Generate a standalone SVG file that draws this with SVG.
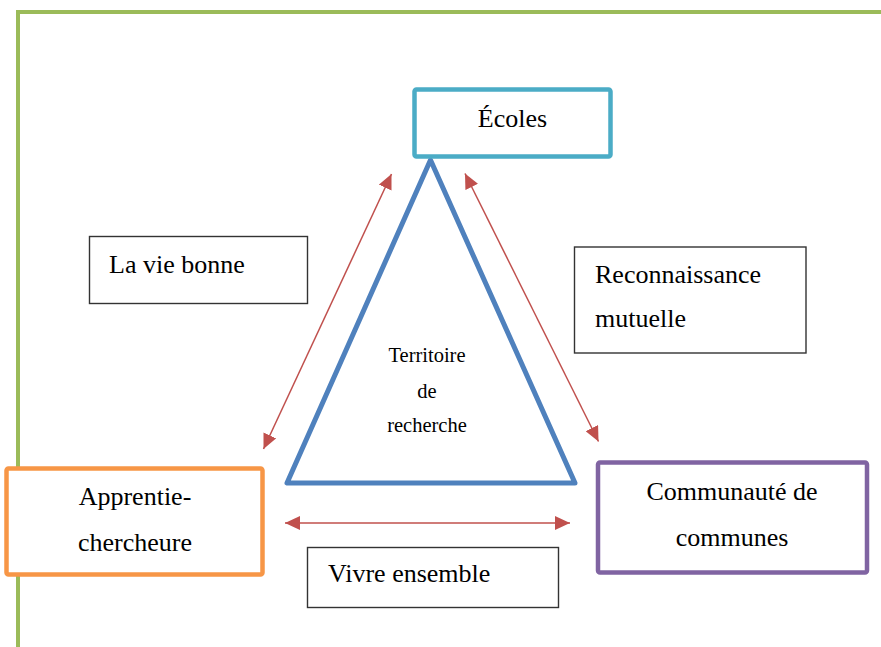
<svg xmlns="http://www.w3.org/2000/svg" width="881" height="647" viewBox="0 0 881 647">
<defs>
<marker id="ah" markerUnits="userSpaceOnUse" markerWidth="16" markerHeight="14" refX="15" refY="7" orient="auto-start-reverse" viewBox="0 0 16 14">
<path d="M0,0 L15,7 L0,14 z" fill="#C0504D"/>
</marker>
<style>
.t{font-size:26px}
.s{font-size:20.5px}
.plain{fill:#fff;stroke:#333;stroke-width:1.4}
.arr{stroke:#C0504D;stroke-width:1.5;fill:none;marker-start:url(#ah);marker-end:url(#ah)}
</style>
</defs>
<rect width="881" height="647" fill="#fff"/>
<path d="M18,647 V12 H881" fill="none" stroke="#9BBB59" stroke-width="4"/>

<g font-family="Liberation Serif, DejaVu Serif, serif" fill="#000">
<g id="triangle">
<polygon points="430.5,160 287,483 575,483" fill="none" stroke="#4F81BD" stroke-width="5" stroke-linejoin="round"/>
<text class="s" x="427" y="361.5" text-anchor="middle">Territoire</text>
<text class="s" x="427" y="398" text-anchor="middle">de</text>
<text class="s" x="427" y="432" text-anchor="middle">recherche</text>
</g>

<g id="connectors">
<line class="arr" x1="391.5" y1="174" x2="263.5" y2="449"/>
<line class="arr" x1="465" y1="173.5" x2="598.5" y2="441.5"/>
<line class="arr" x1="285" y1="523" x2="570" y2="523"/>
</g>

<g id="ecoles">
<rect x="414.5" y="89.5" width="196" height="67" rx="2" fill="#fff" stroke="#4BACC6" stroke-width="4.5"/>
<text class="t" x="512.5" y="127" text-anchor="middle">Écoles</text>
</g>

<g id="vie-bonne">
<rect class="plain" x="89.5" y="236.5" width="218" height="67"/>
<text class="t" x="109" y="272.5">La vie bonne</text>
</g>

<g id="reconnaissance">
<rect class="plain" x="574.5" y="247" width="231.5" height="106"/>
<text class="t" x="595" y="282.5">Reconnaissance</text>
<text class="t" x="595" y="327">mutuelle</text>
</g>

<g id="apprentie">
<rect x="6.5" y="468.5" width="256" height="106" rx="2" fill="#fff" stroke="#F79646" stroke-width="4.5"/>
<text class="t" x="135" y="505" text-anchor="middle">Apprentie-</text>
<text class="t" x="135" y="551" text-anchor="middle">chercheure</text>
</g>

<g id="communaute">
<rect x="598" y="462.5" width="269" height="110" rx="2" fill="#fff" stroke="#8064A2" stroke-width="4.5"/>
<text class="t" x="732" y="499.5" text-anchor="middle">Communauté de</text>
<text class="t" x="732" y="546" text-anchor="middle">communes</text>
</g>

<g id="vivre-ensemble">
<rect class="plain" x="307.5" y="547.5" width="251" height="60"/>
<text class="t" x="328" y="582">Vivre ensemble</text>
</g>
</g>
</svg>
